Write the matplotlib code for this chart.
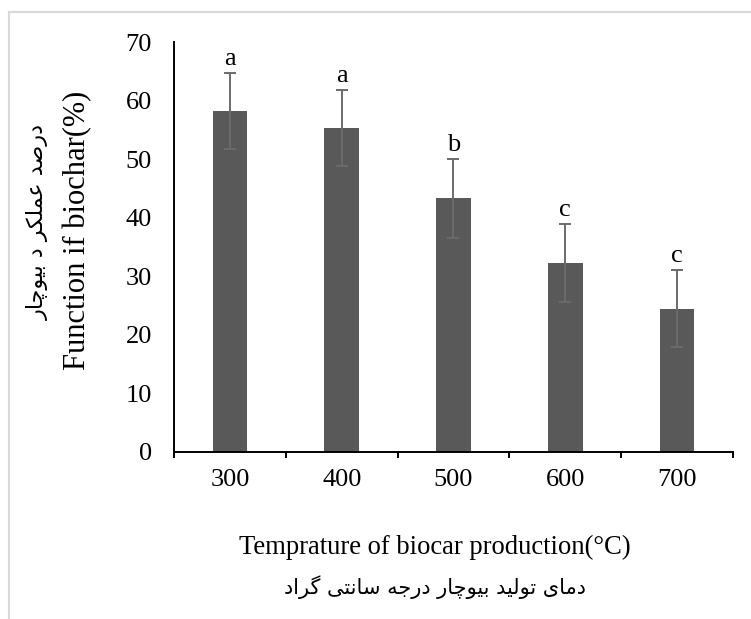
import matplotlib
matplotlib.use("Agg")
import matplotlib.pyplot as plt
from matplotlib.lines import Line2D
import numpy as np

temperatures = ["300", "400", "500", "600", "700"]
biochar_function = [58.2, 55.3, 43.3, 32.3, 24.5]
std_error = [6.5, 6.5, 6.7, 6.6, 6.6]
group_letters = ["a", "a", "b", "c", "c"]
y_ticks = [0, 10, 20, 30, 40, 50, 60, 70]

y_label_en = "Function if biochar(%)"
y_label_fa = "درصد عملکر د بیوچار"
x_label_en = "Temprature of biocar production(°C)"
x_label_fa = "دمای تولید بیوچار درجه سانتی گراد"

# presentation forms: isolated, final, initial, medial
FORMS = {
    "\u0627": (0xFE8D, 0xFE8E, None, None),
    "\u062F": (0xFEA9, 0xFEAA, None, None),
    "\u0631": (0xFEAD, 0xFEAE, None, None),
    "\u0648": (0xFEED, 0xFEEE, None, None),
    "\u0628": (0xFE8F, 0xFE90, 0xFE91, 0xFE92),
    "\u062A": (0xFE95, 0xFE96, 0xFE97, 0xFE98),
    "\u062C": (0xFE9D, 0xFE9E, 0xFE9F, 0xFEA0),
    "\u0633": (0xFEB1, 0xFEB2, 0xFEB3, 0xFEB4),
    "\u0635": (0xFEB9, 0xFEBA, 0xFEBB, 0xFEBC),
    "\u0639": (0xFEC9, 0xFECA, 0xFECB, 0xFECC),
    "\u0644": (0xFEDD, 0xFEDE, 0xFEDF, 0xFEE0),
    "\u0645": (0xFEE1, 0xFEE2, 0xFEE3, 0xFEE4),
    "\u0646": (0xFEE5, 0xFEE6, 0xFEE7, 0xFEE8),
    "\u0647": (0xFEE9, 0xFEEA, 0xFEEB, 0xFEEC),
    "\u06CC": (0xFBFC, 0xFBFD, 0xFBFE, 0xFBFF),
    "\u06A9": (0xFB8E, 0xFB8F, 0xFB90, 0xFB91),
    "\u06AF": (0xFB92, 0xFB93, 0xFB94, 0xFB95),
    "\u0686": (0xFB7A, 0xFB7B, 0xFB7C, 0xFB7D),
    "\u067E": (0xFB56, 0xFB57, 0xFB58, 0xFB59),
}


def shape_persian(text):
    # matplotlib has no arabic shaping, so pick the joined forms by hand
    out = []
    n = len(text)
    for i, ch in enumerate(text):
        if ch not in FORMS:
            out.append(ch)
            continue
        iso, fin, ini, med = FORMS[ch]
        prev = text[i - 1] if i > 0 else " "
        nxt = text[i + 1] if i < n - 1 else " "
        link_prev = prev in FORMS and FORMS[prev][2] is not None
        link_next = ini is not None and nxt in FORMS
        if link_prev and link_next:
            cp = med
        elif link_prev:
            cp = fin
        elif link_next:
            cp = ini
        else:
            cp = iso
        out.append(chr(cp))
    return "".join(out[::-1])


plt.rcParams['font.family'] = ['Liberation Serif', 'DejaVu Sans']

fig = plt.figure(figsize=(7.51, 6.19), dpi=100)
ax = fig.add_axes([0.2317, 0.2698, 0.976 - 0.2317, 0.932 - 0.2698])

x = np.arange(len(temperatures))
ax.bar(x, biochar_function, width=0.31, color="#595959", zorder=2)
ax.errorbar(x, biochar_function, yerr=std_error, fmt="none", ecolor="#6b6b6b",
            elinewidth=1.4, capsize=4, capthick=1.4, zorder=3)

for xi, val, err, letter in zip(x, biochar_function, std_error, group_letters):
    ax.annotate(letter, (xi, val + err), xytext=(0, 6), textcoords="offset points",
                ha="center", va="baseline", fontsize=19)

ax.set_xlim(-0.5, len(temperatures) - 0.5)
ax.set_ylim(0, 70)
ax.set_yticks(y_ticks)
ax.set_xticks(x)
ax.set_xticklabels(temperatures)
ax.set_xticks(np.arange(-0.5, len(temperatures)), minor=True)
ax.tick_params(axis="y", length=0, pad=16, labelsize=19)
ax.tick_params(axis="x", which="major", length=0, pad=12, labelsize=19)
ax.tick_params(axis="x", which="minor", direction="out", length=4.5, width=1.4)

for side in ["top", "right"]:
    ax.spines[side].set_visible(False)
for side in ["left", "bottom"]:
    ax.spines[side].set_linewidth(1.4)
    ax.spines[side].set_color("black")

fig.text(0.1035, 0.628, y_label_en, rotation=90, ha="center", va="center", fontsize=22)
fig.text(0.05, 0.641, shape_persian(y_label_fa), rotation=90, ha="center", va="center",
         fontsize=16, family=["DejaVu Sans"])
fig.text(0.579, 0.105, x_label_en, ha="center", va="baseline", fontsize=19.2)
fig.text(0.579, 0.052, shape_persian(x_label_fa), ha="center", va="center",
         fontsize=15, family=["DejaVu Sans"])

# light chart-area border (top and left edges only are visible)
fig.add_artist(Line2D([8.5 / 751, 1], [1 - 11.5 / 619, 1 - 11.5 / 619],
                      transform=fig.transFigure, color="#d9d9d9", lw=1.5))
fig.add_artist(Line2D([8.5 / 751, 8.5 / 751], [0, 1 - 11.5 / 619],
                      transform=fig.transFigure, color="#d9d9d9", lw=1.5))

fig.savefig("out.png", dpi=100)
